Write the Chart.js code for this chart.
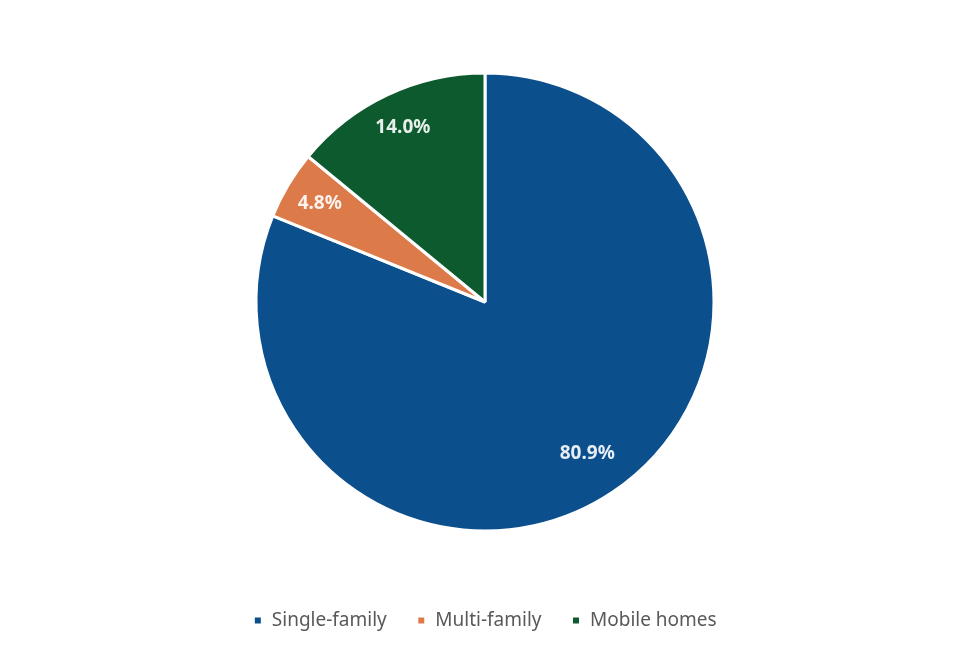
<!DOCTYPE html>
<html>
<head>
<meta charset="utf-8">
<script src="https://cdn.jsdelivr.net/npm/chart.js@4.4.0/dist/chart.umd.min.js"></script>
<style>
  html, body { margin: 0; padding: 0; background: #ffffff; }
  #wrap { width: 958px; height: 656px; }
</style>
</head>
<body>
<div id="wrap"><canvas id="torta"></canvas></div>
<script>
const categorias = ['Single-family', 'Multi-family', 'Mobile homes'];
const porcentajes = [80.9, 4.8, 14.0];
const colores = ['#0b4f8d', '#dd7a4a', '#0e5a2f'];

// etiquetas dentro de cada porcion
const etiquetasPorcion = {
  id: 'etiquetasPorcion',
  afterDatasetsDraw(chart) {
    const ctx = chart.ctx;
    const meta = chart.getDatasetMeta(0);
    ctx.save();
    ctx.font = 'bold 19px "Noto Sans"';
    ctx.fillStyle = 'rgba(255, 255, 255, 0.9)';
    ctx.textAlign = 'center';
    ctx.textBaseline = 'middle';
    meta.data.forEach((arc, i) => {
      const p = arc.getProps(['x', 'y', 'startAngle', 'endAngle', 'outerRadius']);
      const mid = (p.startAngle + p.endAngle) / 2;
      const r = p.outerRadius * (porcentajes[i] > 50 ? 0.8 : 0.84);
      ctx.fillText(porcentajes[i].toFixed(1) + '%', p.x + Math.cos(mid) * r, p.y + Math.sin(mid) * r);
    });
    ctx.restore();
  }
};

const ctx = document.getElementById('torta').getContext('2d');
new Chart(ctx, {
  type: 'pie',
  data: {
    labels: categorias,
    datasets: [{
      data: porcentajes,
      backgroundColor: colores,
      borderColor: '#ffffff',
      borderWidth: 3,
      radius: 229
    }]
  },
  options: {
    responsive: true,
    maintainAspectRatio: false,
    animation: false,
    layout: { padding: { top: 23, bottom: 16, left: 12, right: 0 } },
    plugins: {
      legend: {
        position: 'bottom',
        labels: {
          usePointStyle: true,
          pointStyle: 'rect',
          boxHeight: 9,
          pointStyleWidth: 9,
          padding: 30,
          color: '#595959',
          font: { family: '"Noto Sans"', size: 19 }
        }
      },
      tooltip: { enabled: false }
    }
  },
  plugins: [etiquetasPorcion]
});
</script>
</body>
</html>
